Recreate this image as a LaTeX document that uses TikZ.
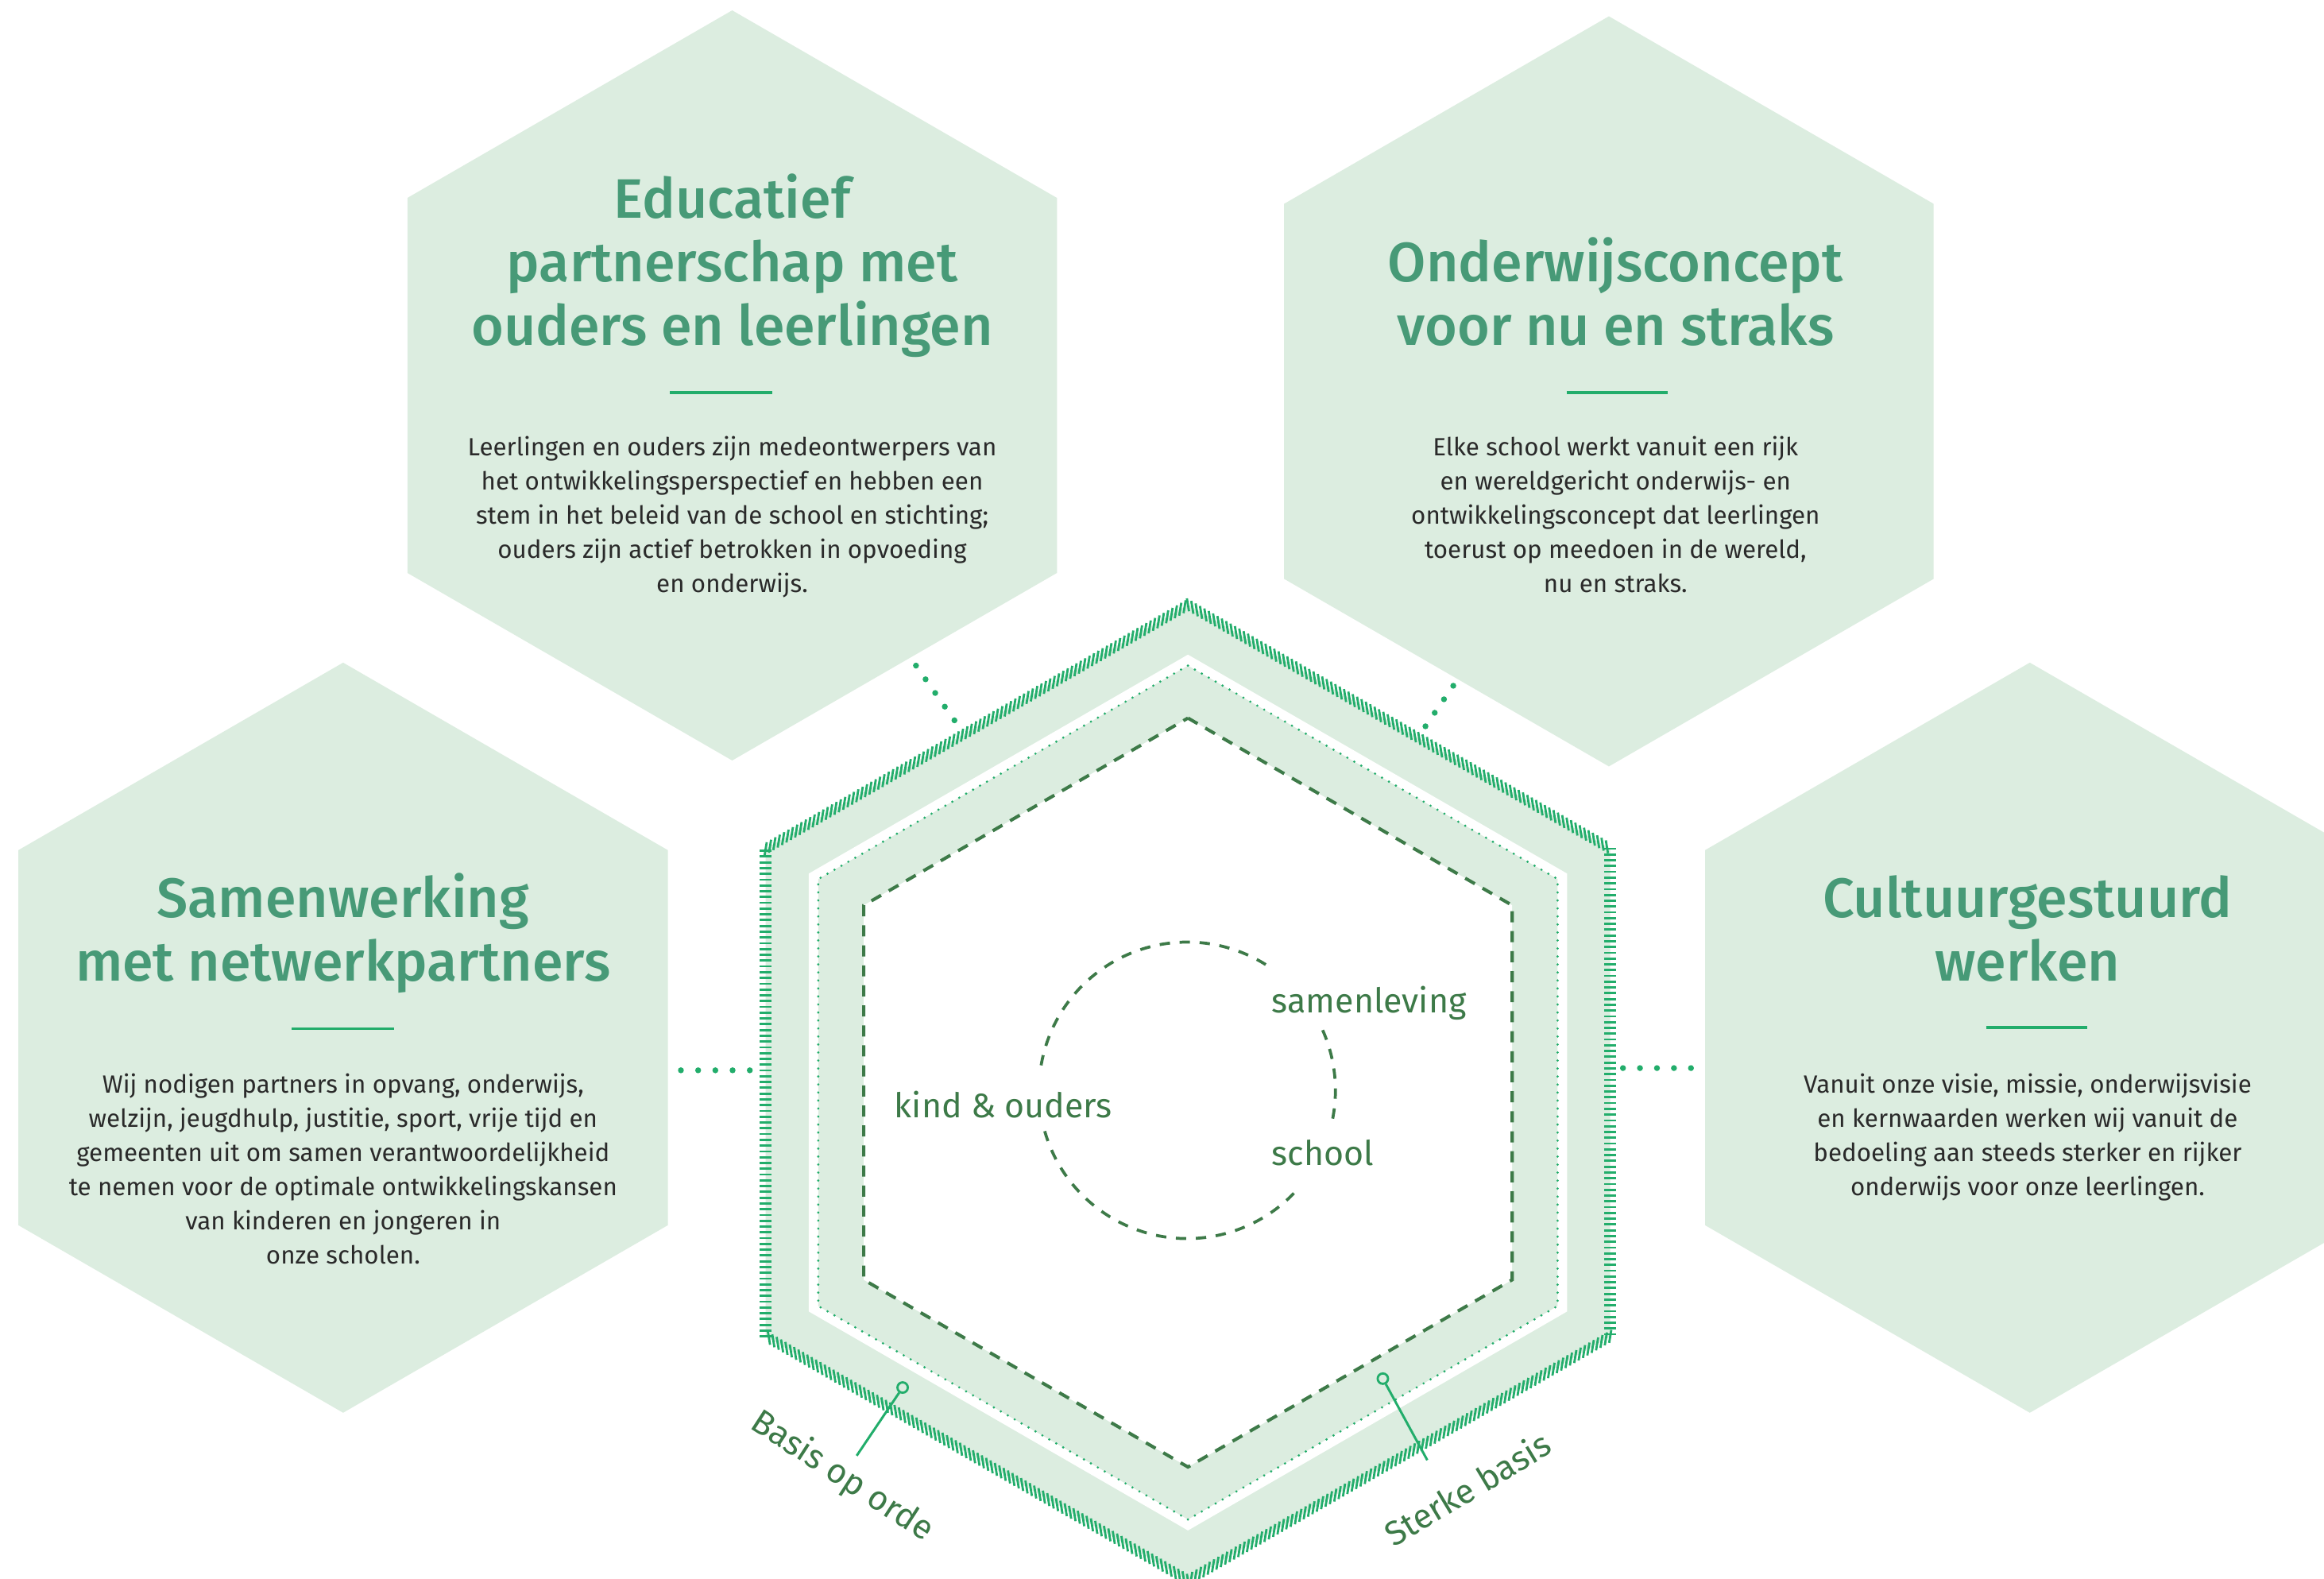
\documentclass[tikz,border=0pt]{standalone}
\usepackage{fontspec}
\setmainfont{Fira Sans}
\newfontfamily\titlefont{Fira Sans Medium}
\usetikzlibrary{decorations.markings,shapes.geometric}
\definecolor{hexfill}{HTML}{DCEDE0}
\definecolor{titlegreen}{HTML}{479A77}
\definecolor{brightgreen}{HTML}{22AD6B}
\definecolor{darkgreen}{HTML}{3D7A48}
\definecolor{bodygray}{HTML}{2A2A2A}
\newcommand\hexpath[3]{(#1,#2-#3) -- (#1+0.8660*#3,#2-0.5*#3) -- (#1+0.8660*#3,#2+0.5*#3) -- (#1,#2+#3) -- (#1-0.8660*#3,#2+0.5*#3) -- (#1-0.8660*#3,#2-0.5*#3) -- cycle}
\begin{document}
\begin{tikzpicture}[x=1pt,y=-1pt,
  titletext/.style={font=\titlefont\fontsize{37.5}{43}\selectfont, text=titlegreen, inner sep=0pt, anchor=base},
  bodytext/.style={font=\fontsize{16.8}{23}\selectfont, text=bodygray, inner sep=0pt, anchor=base},
  rulestyle/.style={draw=brightgreen, line width=2pt},
  innerlabel/.style={font=\fontsize{23}{27}\selectfont, text=darkgreen, inner sep=0pt},
  dotconn/.style={draw=brightgreen, line width=4pt, line cap=round, dash pattern=on 0pt off #1},
  dashhex/.style={draw=darkgreen, line width=2.2pt, dash pattern=on 7.5pt off 6pt},
  dothex/.style={draw=brightgreen, line width=1.7pt, line cap=round, dash pattern=on 0pt off 5.4pt},
  circdash/.style={draw=darkgreen, line width=2pt, dash pattern=on 7pt off 6.5pt},
  pinline/.style={draw=brightgreen, line width=1.6pt},
  pindot/.style={circle, draw=brightgreen, line width=1.5pt, minimum size=7pt, inner sep=0pt},
  hatchtick/.style={draw=brightgreen, line width=1.5pt},
  hatchpos/.style={decorate, decoration={markings, mark=between positions 0 and 1 step 3.4pt with {\draw[hatchtick] (-2.8pt,-3.4pt) -- (2.8pt,3.4pt);}}},
  hatchneg/.style={decorate, decoration={markings, mark=between positions 0 and 1 step 3.4pt with {\draw[hatchtick] (-2.8pt,3.4pt) -- (2.8pt,-3.4pt);}}},
  hatchvert/.style={decorate, decoration={markings, mark=between positions 0 and 1 step 3.9pt with {\draw[hatchtick] (0pt,-4pt) -- (0pt,4pt);}}}
]
\useasboundingbox (0,0) rectangle (1568,1065);
\fill[white] (0,0) rectangle (1568,1065);
\clip (0,0) rectangle (1568,1065);

% four outer hexagons
\fill[hexfill] \hexpath{494}{260}{253};
\fill[hexfill] \hexpath{1085.5}{264}{253};
\fill[hexfill] \hexpath{231.5}{700}{253};
\fill[hexfill] \hexpath{1369.5}{700}{253};

% central hexagon layers
\fill[hexfill] \hexpath{801.5}{737}{329};
\fill[white] \hexpath{801.5}{737}{295.4};
\fill[hexfill] \hexpath{801.5}{737}{288};
\draw[dothex] \hexpath{801.5}{737}{288};
\fill[white] \hexpath{801.5}{737}{252.6};
\draw[dashhex] \hexpath{801.5}{737}{252.6};

% hatched outline
\coordinate (h1) at (801.5,408);
\coordinate (h2) at (1086.4,572.5);
\coordinate (h3) at (1086.4,901.5);
\coordinate (h4) at (801.5,1066);
\coordinate (h5) at (516.6,901.5);
\coordinate (h6) at (516.6,572.5);
\path[hatchpos] (h6) -- (h1);
\path[hatchneg] (h1) -- (h2);
\path[hatchvert] (h2) -- (h3);
\path[hatchpos] (h3) -- (h4);
\path[hatchneg] (h4) -- (h5);
\path[hatchvert] (h5) -- (h6);

% dashed circle in three arcs
\coordinate (cc) at (801,735.5);
\draw[circdash] (cc) ++(-58:100) arc[start angle=-58, end angle=-173, radius=100];
\draw[circdash] (cc) ++(-196:100) arc[start angle=-196, end angle=-319, radius=100];
\draw[circdash] (cc) ++(11:100) arc[start angle=11, end angle=-27, radius=100];

% dotted connectors
\coordinate (tlA) at (618,449);   \coordinate (tlB) at (644,486);
\coordinate (trA) at (980.5,462.6); \coordinate (trB) at (961.7,490);
\coordinate (lA) at (459.4,722);  \coordinate (lB) at (506,722);
\coordinate (rA) at (1095,720.5); \coordinate (rB) at (1141,720.5);
\draw[dotconn=11.28pt] (tlA) -- (tlB);
\draw[dotconn=11.05pt] (trA) -- (trB);
\draw[dotconn=11.62pt] (lA) -- (lB);
\draw[dotconn=11.47pt] (rA) -- (rB);

% top-left block
\node[titletext] (tlt1) at (494,147) {Educatief};
\node[titletext] (tlt2) at (494,190) {partnerschap met};
\node[titletext] (tlt3) at (494,233) {ouders en leerlingen};
\draw[rulestyle] (452,265) -- (521,265);
\foreach \txt [count=\i from 0] in {{Leerlingen en ouders zijn medeontwerpers van},{het ontwikkelingsperspectief en hebben een},{stem in het beleid van de school en stichting;},{ouders zijn actief betrokken in opvoeding},{en onderwijs.}}
  \node[bodytext] (tlb\i) at (494,307.5+23*\i) {\txt};

% top-right block
\node[titletext] (trt1) at (1090,190) {Onderwijsconcept};
\node[titletext] (trt2) at (1090,233) {voor nu en straks};
\draw[rulestyle] (1057,265) -- (1125,265);
\foreach \txt [count=\i from 0] in {{Elke school werkt vanuit een rijk},{en wereldgericht onderwijs- en},{ontwikkelingsconcept dat leerlingen},{toerust op meedoen in de wereld,},{nu en straks.}}
  \node[bodytext] (trb\i) at (1090,307.5+23*\i) {\txt};

% left block
\node[titletext] (lt1) at (231.5,619) {Samenwerking};
\node[titletext] (lt2) at (231.5,662) {met netwerkpartners};
\draw[rulestyle] (197,694) -- (266,694);
\foreach \txt [count=\i from 0] in {{Wij nodigen partners in opvang, onderwijs,},{welzijn, jeugdhulp, justitie, sport, vrije tijd en},{gemeenten uit om samen verantwoordelijkheid},{te nemen voor de optimale ontwikkelingskansen},{van kinderen en jongeren in},{onze scholen.}}
  \node[bodytext] (lb\i) at (231.5,737.5+23*\i) {\txt};

% right block
\node[titletext] (rt1) at (1368,619) {Cultuurgestuurd};
\node[titletext] (rt2) at (1368,662) {werken};
\draw[rulestyle] (1340,693) -- (1408,693);
\foreach \txt [count=\i from 0] in {{Vanuit onze visie, missie, onderwijsvisie},{en kernwaarden werken wij vanuit de},{bedoeling aan steeds sterker en rijker},{onderwijs voor onze leerlingen.}}
  \node[bodytext] (rb\i) at (1368,737.5+23*\i) {\txt};

% centre labels
\node[innerlabel, anchor=base west] (samen) at (858,683) {samenleving};
\node[innerlabel, anchor=base west] (school) at (858,786) {school};
\node[innerlabel, anchor=base] (kind) at (677,754) {kind \& ouders};

% base labels with pins
\node[innerlabel, rotate=-33] (basis) at (568,996) {Basis op orde};
\node[innerlabel, rotate=31] (sterke) at (990,1004) {Sterke basis};
\node[pindot] (basisDot) at (609,936) {};
\coordinate (basisEnd) at (578,982);
\draw[pinline] (basisDot) -- (basisEnd);
\node[pindot] (sterkeDot) at (933,930) {};
\coordinate (sterkeEnd) at (963,985);
\draw[pinline] (sterkeDot) -- (sterkeEnd);
\end{tikzpicture}
\end{document}
